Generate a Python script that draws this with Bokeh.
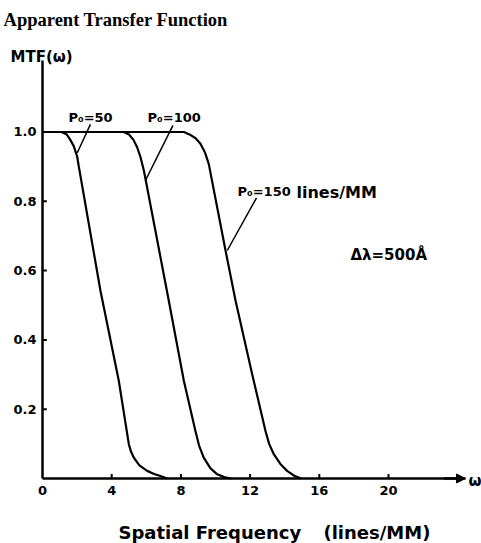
from bokeh.plotting import figure
from bokeh.models import Label, Arrow, NormalHead, FixedTicker, Range1d
from bokeh.embed import file_html
from bokeh.resources import INLINE

# ---- data ----
x_p50 = [0, 1.1, 1.4, 1.6, 1.8, 2.0, 2.1, 3.35, 4.41, 4.99, 5.12, 5.28, 5.6, 6.05, 6.45, 6.82, 7.2]
y_p50 = [1.0, 1.0, 0.993, 0.978, 0.96, 0.93, 0.90, 0.542, 0.282, 0.099, 0.077, 0.060, 0.038, 0.022, 0.013, 0.007, 0.0]

x_p100 = [0, 4.7, 5.0, 5.25, 5.47, 5.65, 5.86, 7.3, 8.17, 8.84, 9.05, 9.32, 9.7, 10.1, 10.5, 10.9]
y_p100 = [1.0, 1.0, 0.993, 0.978, 0.956, 0.93, 0.889, 0.513, 0.282, 0.137, 0.095, 0.060, 0.03, 0.012, 0.004, 0.0]

x_p150 = [0, 8.17, 8.5, 8.85, 9.13, 9.4, 9.61, 10.58, 11.16, 12.12, 12.89, 13.1, 13.37, 13.75, 14.14, 14.55, 14.95]
y_p150 = [1.0, 1.0, 0.993, 0.982, 0.966, 0.94, 0.908, 0.658, 0.513, 0.301, 0.137, 0.10, 0.070, 0.042, 0.022, 0.008, 0.0]

x_ticks = [0, 4, 8, 12, 16, 20]
y_ticks = [0.2, 0.4, 0.6, 0.8, 1.0]
y_tick_labels = ["0.2", "0.4", "0.6", "0.8", "1.0"]

curve_labels = ["P\u2080=50", "P\u2080=100", "P\u2080=150"]

# ---- figure ----
FONT = "DejaVu Sans"
p = figure(width=481, height=543, output_backend="svg", toolbar_location=None,
           x_range=Range1d(-2.428, 25.376), y_range=Range1d(-0.1876, 1.3795),
           min_border_left=0, min_border_right=0, min_border_top=0, min_border_bottom=0)
p.outline_line_color = None
p.grid.visible = False
p.background_fill_color = "white"
p.border_fill_color = "white"

for ax in (p.xaxis[0], p.yaxis[0]):
    ax.fixed_location = 0
    ax.axis_line_width = 2.5
    ax.axis_line_color = "black"
    ax.major_tick_in = 0
    ax.major_tick_out = 0
    ax.minor_tick_line_color = None
    ax.major_label_text_font = FONT
    ax.major_label_text_font_style = "bold"
    ax.major_label_text_font_size = "13px"
    ax.major_label_text_color = "black"

p.xaxis[0].ticker = FixedTicker(ticks=x_ticks)
p.xaxis[0].bounds = (0, 24.45)
p.xaxis[0].major_label_standoff = 8
p.yaxis[0].ticker = FixedTicker(ticks=y_ticks)
p.yaxis[0].bounds = (0, 1.206)
p.yaxis[0].major_label_overrides = {t: s for t, s in zip(y_ticks, y_tick_labels)}
p.yaxis[0].major_label_standoff = 6

# inward tick marks at the tick positions
p.segment(x0=x_ticks[1:], y0=[0] * (len(x_ticks) - 1), x1=x_ticks[1:], y1=[0.013] * (len(x_ticks) - 1),
          line_color="black", line_width=2)
p.segment(x0=[0] * (len(y_ticks) - 1), y0=y_ticks[:-1], x1=[0.25] * (len(y_ticks) - 1), y1=y_ticks[:-1],
          line_color="black", line_width=2)

# curves
for xs, ys in ((x_p50, y_p50), (x_p100, y_p100), (x_p150, y_p150)):
    p.line(xs, ys, line_color="black", line_width=2.2)

# leader lines from labels to curves
p.line([2.77, 2.01], [1.022, 0.94], line_color="black", line_width=1.5)
p.line([7.54, 5.95], [1.019, 0.86], line_color="black", line_width=1.5)
p.line([12.37, 10.68], [0.81, 0.658], line_color="black", line_width=1.5)

# x axis arrow head
p.add_layout(Arrow(end=NormalHead(size=9, fill_color="black", line_color="black"),
                   x_start=23.2, y_start=0, x_end=24.45, y_end=0,
                   line_width=2.5, line_color="black"))

def lab(x, y, text, size, style="bold", font=FONT, baseline="alphabetic"):
    p.add_layout(Label(x=x, y=y, text=text, text_font=font, text_font_size=size,
                       text_font_style=style, text_color="black",
                       text_baseline=baseline, text_align="left"))

lab(1.50, 1.042, curve_labels[0], "13px")
lab(6.07, 1.042, curve_labels[1], "13px")
lab(11.27, 0.827, curve_labels[2], "13px")
lab(14.68, 0.825, "lines/MM", "16px")
lab(17.8, 0.644, "\u0394\u03bb=500\u00c5", "15px")
lab(-1.85, 1.215, "MTF(\u03c9)", "15px")
lab(24.62, -0.006, "\u03c9", "15px", baseline="middle")
lab(4.39, -0.156, "Spatial Frequency", "18px")
lab(16.24, -0.156, "(lines/MM)", "18px")
lab(-2.25, 1.323, "Apparent Transfer Function", "18.5px", style="bold", font="Liberation Serif")

open("out.html", "w").write(file_html(p, INLINE))
